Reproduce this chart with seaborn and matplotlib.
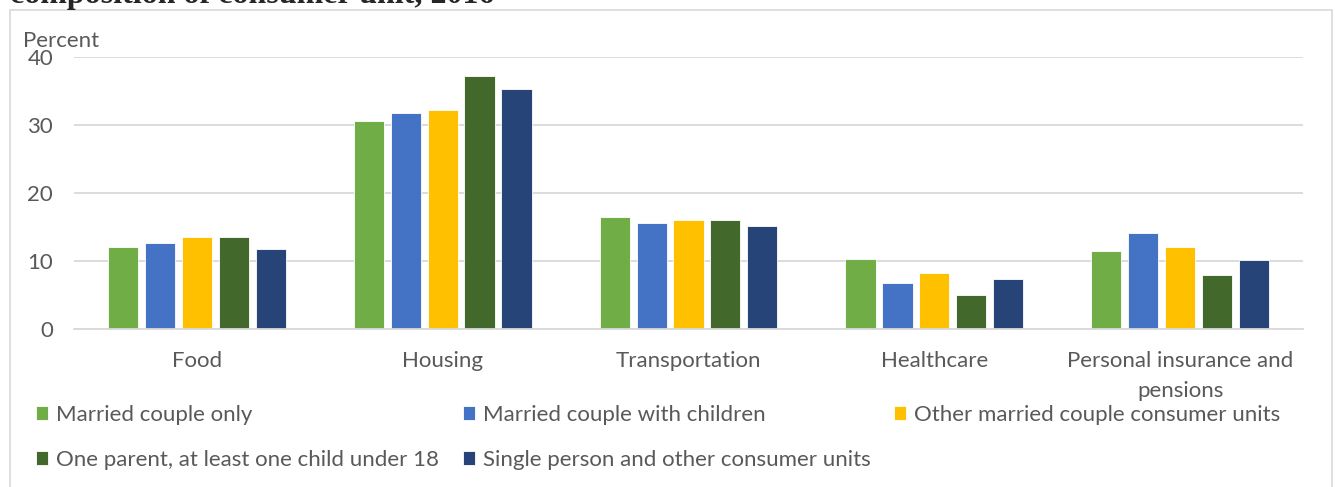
import pandas as pd
import seaborn as sns
import matplotlib.pyplot as plt
from matplotlib.patches import Rectangle

# Datos (porcentaje del gasto)
categorias = ["Food", "Housing", "Transportation", "Healthcare",
              "Personal insurance and\npensions"]
grupos = ["Married couple only",
          "Married couple with children",
          "Other married couple consumer units",
          "One parent, at least one child under 18",
          "Single person and other consumer units"]

married_only = [12.0, 30.6, 16.5, 10.3, 11.5]
married_children = [12.7, 31.8, 15.6, 6.8, 14.1]
other_married = [13.6, 32.2, 16.0, 8.2, 12.0]
one_parent = [13.6, 37.2, 16.0, 5.0, 8.0]
single_other = [11.7, 35.3, 15.1, 7.3, 10.1]

colores = ["#70AD47", "#4472C4", "#FFC000", "#43682B", "#264478"]

series = [married_only, married_children, other_married, one_parent, single_other]
filas = []
for grupo, valores in zip(grupos, series):
    for cat, v in zip(categorias, valores):
        filas.append({"categoria": cat, "grupo": grupo, "valor": v})
df = pd.DataFrame(filas)

sns.set_theme(style="white")
plt.rcParams["font.family"] = ["Lato", "DejaVu Sans"]
gris = "#595959"
linea = "#D9D9D9"
fs = 16

W, H = 1335, 487
fig = plt.figure(figsize=(W / 100, H / 100), dpi=100)
ax = fig.add_axes([74 / W, 1 - 329 / H, (1303 - 74) / W, (329 - 57) / H])

sns.barplot(data=df, x="categoria", y="valor", hue="grupo", palette=colores,
            saturation=1, width=0.75, gap=0.18, edgecolor="white",
            linewidth=0.6, ax=ax)

handles, labels = ax.get_legend_handles_labels()
ax.get_legend().remove()

ax.set_ylim(0, 40)
ax.set_xlim(-0.5, 4.5)
ax.set_yticks([0, 10, 20, 30, 40])
ax.yaxis.grid(True, color=linea, linewidth=1.3)
ax.set_axisbelow(True)
for lado in ["top", "right", "left"]:
    ax.spines[lado].set_visible(False)
ax.spines["bottom"].set_color(linea)
ax.spines["bottom"].set_linewidth(1.3)
ax.set_xlabel("")
ax.set_ylabel("")
ax.tick_params(axis="both", length=0, labelsize=fs, labelcolor=gris)
ax.tick_params(axis="y", pad=15)
ax.tick_params(axis="x", pad=16)
for t in ax.get_xticklabels():
    t.set_linespacing(1.6)

fig.text(23 / W, 1 - 41 / H, "Percent", fontsize=fs, color=gris, va="center")

# Leyenda en filas: reordenamos para que ncol=3 la llene por filas
orden = [0, 3, 1, 4, 2]
fig.legend([handles[i] for i in orden], [labels[i] for i in orden],
           ncol=3, loc="upper left", bbox_to_anchor=(36 / W, 1 - 405 / H),
           frameon=False, fontsize=fs, labelcolor=gris,
           handlelength=0.55, handleheight=0.55, handletextpad=0.36,
           columnspacing=1.05, labelspacing=1.12, borderaxespad=0, borderpad=0)

# Marco del area del grafico
fig.patches.append(Rectangle((10 / W, -0.05), (1332 - 10) / W, 1 - 10 / H + 0.05,
                             transform=fig.transFigure, fill=False,
                             edgecolor=linea, linewidth=1.2))

# Titulo cortado en la parte superior
fig.text(10 / W, 1 - 3 / H, "composition of consumer unit, 2016",
         family="Liberation Serif", weight="bold", fontsize=23, va="baseline")

fig.savefig("out.png", dpi=100)
